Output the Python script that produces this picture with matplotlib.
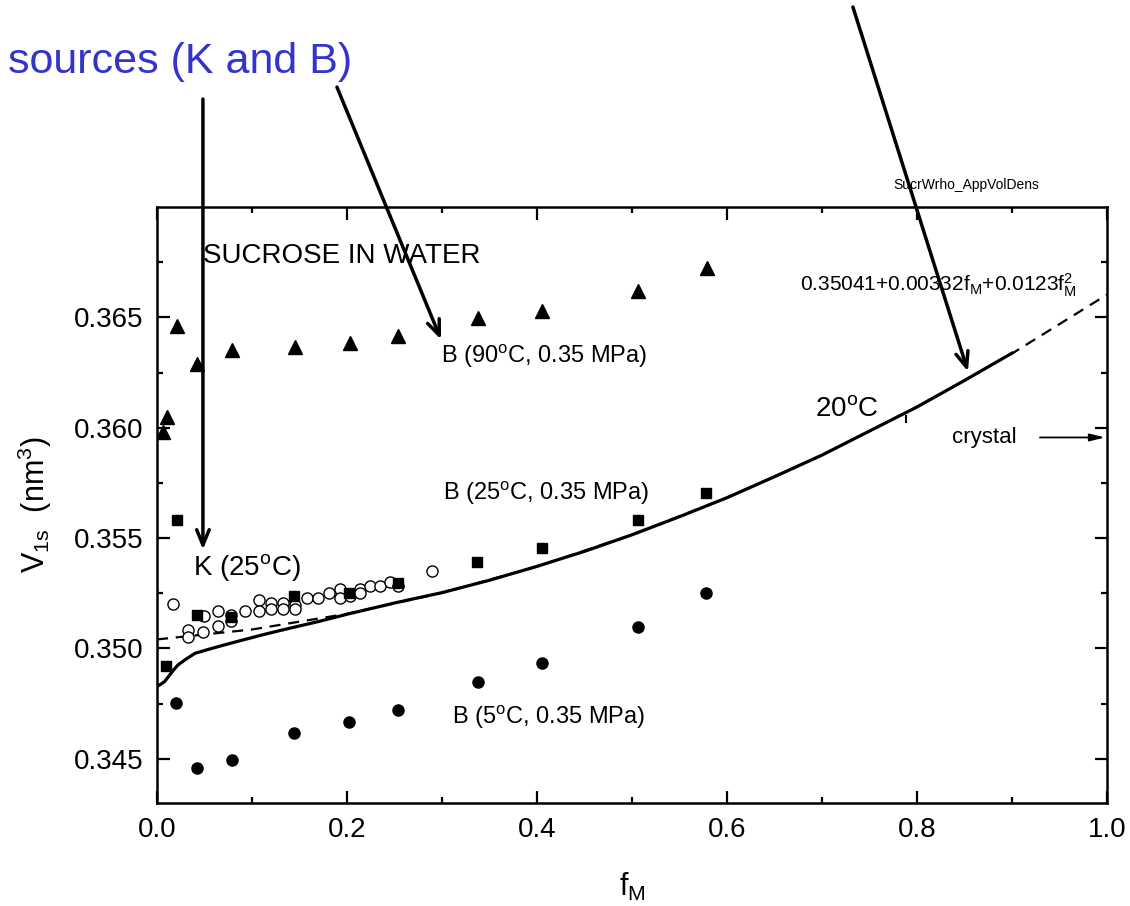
import matplotlib
matplotlib.use("Agg")
import matplotlib.pyplot as plt

plt.rcParams['font.family'] = ['Liberation Sans', 'DejaVu Sans']
plt.rcParams['mathtext.fontset'] = 'custom'
plt.rcParams['mathtext.rm'] = 'Liberation Sans'
plt.rcParams['mathtext.it'] = 'Liberation Sans'

# B, 90 C (triangles)
f_b90 = [0.006, 0.011, 0.021, 0.042, 0.079, 0.145, 0.203, 0.254, 0.338, 0.405, 0.506, 0.579]
v_b90 = [0.35979, 0.36047, 0.36459, 0.36287, 0.36350, 0.36364, 0.36382, 0.36414,
         0.36495, 0.36527, 0.36618, 0.36722]

# B, 25 C (squares)
f_b25 = [0.0095, 0.021, 0.042, 0.078, 0.144, 0.202, 0.254, 0.337, 0.405, 0.506, 0.578]
v_b25 = [0.34922, 0.35584, 0.35153, 0.35144, 0.35239, 0.35253, 0.35298, 0.35393,
         0.35457, 0.35584, 0.35706]

# B, 5 C (filled circles)
f_b5 = [0.020, 0.042, 0.079, 0.144, 0.202, 0.254, 0.338, 0.405, 0.506, 0.578]
v_b5 = [0.34754, 0.34459, 0.34495, 0.34618, 0.34668, 0.34722, 0.34849, 0.34935,
        0.35099, 0.35253]

# K, 25 C (open circles)
f_k25 = [0.0165, 0.033, 0.033, 0.048, 0.049, 0.064, 0.064, 0.078, 0.078, 0.093,
         0.107, 0.107, 0.120, 0.120, 0.133, 0.133, 0.145, 0.145, 0.158, 0.170,
         0.181, 0.193, 0.193, 0.203, 0.214, 0.214, 0.224, 0.235, 0.245, 0.254, 0.290]
v_k25 = [0.35202, 0.35082, 0.35050, 0.35073, 0.35149, 0.35171, 0.35100, 0.35153,
         0.35123, 0.35171, 0.35221, 0.35171, 0.35206, 0.35179, 0.35206, 0.35179,
         0.35198, 0.35179, 0.35229, 0.35229, 0.35251, 0.35270, 0.35229, 0.35239,
         0.35270, 0.35251, 0.35281, 0.35281, 0.35300, 0.35281, 0.35349]

# 20 C curve (solid)
f_20 = [0.0, 0.004, 0.008, 0.012, 0.017, 0.022, 0.03, 0.04, 0.055, 0.07, 0.09,
        0.115, 0.14, 0.17, 0.2, 0.25, 0.3, 0.35, 0.4, 0.45, 0.5, 0.55, 0.6,
        0.65, 0.7, 0.75, 0.8, 0.85, 0.9]
v_20 = [0.34827, 0.34838, 0.34850, 0.34872, 0.34900, 0.34925, 0.34950, 0.34978,
        0.34997, 0.35015, 0.35038, 0.35066, 0.35092, 0.35122, 0.35155, 0.35206,
        0.35253, 0.35309, 0.35372, 0.35440, 0.35515, 0.35597, 0.35683, 0.35778,
        0.35876, 0.35985, 0.36094, 0.36214, 0.36338]

# quadratic fit (dashed)
f_fit = [0.0, 0.1, 0.2, 0.3, 0.4, 0.5, 0.6, 0.7, 0.8, 0.9, 1.0]
v_fit = [0.35041, 0.35086, 0.35157, 0.35252, 0.35371, 0.35515, 0.35683, 0.35876,
         0.36094, 0.36336, 0.36603]

xticks = [0.0, 0.2, 0.4, 0.6, 0.8, 1.0]
xlabels = ['0.0', '0.2', '0.4', '0.6', '0.8', '1.0']
yticks = [0.345, 0.350, 0.355, 0.360, 0.365]
ylabels = ['0.345', '0.350', '0.355', '0.360', '0.365']

fig = plt.figure(figsize=(11.3, 9.06), dpi=100)
ax = fig.add_axes([0.1389, 0.1137, 0.8407, 0.6578])

ax.plot(f_fit, v_fit, color='black', lw=1.6, ls=(0, (5, 3.5)))
ax.plot(f_20, v_20, color='black', lw=2.3)
ax.plot([0.788, 0.788], [0.36025, 0.36055], color='black', lw=1.5)

ax.plot(f_b90, v_b90, '^', color='black', ms=9.5, ls='none')
ax.plot(f_k25, v_k25, 'o', mfc='white', mec='black', mew=1.0, ms=8, ls='none')
ax.plot(f_b25, v_b25, 's', color='black', ms=7, ls='none')
ax.plot(f_b5, v_b5, 'o', color='black', ms=8, ls='none')

ax.set_xlim(0, 1.0)
ax.set_ylim(0.343, 0.370)
ax.set_xticks(xticks)
ax.set_xticklabels(xlabels)
ax.set_yticks(yticks)
ax.set_yticklabels(ylabels)
ax.set_xticks([0.1, 0.3, 0.5, 0.7, 0.9], minor=True)
ax.set_yticks([0.3475, 0.3525, 0.3575, 0.3625, 0.3675], minor=True)
ax.tick_params(which='both', direction='in', top=True, right=True, width=1.6,
               labelsize=20, pad=10)
ax.tick_params(which='major', length=9)
ax.tick_params(which='minor', length=4.5)
for s in ax.spines.values():
    s.set_linewidth(1.8)

ax.set_xlabel('f$_\\mathrm{M}$', fontsize=22, labelpad=20)
ax.set_ylabel('V$_\\mathrm{1s}$  (nm$^\\mathrm{3}$)', fontsize=22, labelpad=14)

# labels inside the plot
ax.text(0.0484, 0.36777, 'SUCROSE IN WATER', fontsize=20, va='center')
ax.text(0.299, 0.36323, 'B (90$^\\mathrm{o}$C, 0.35 MPa)', fontsize=17, va='center')
ax.text(0.301, 0.35702, 'B (25$^\\mathrm{o}$C, 0.35 MPa)', fontsize=17, va='center')
ax.text(0.3105, 0.34686, 'B (5$^\\mathrm{o}$C, 0.35 MPa)', fontsize=17, va='center')
ax.text(0.038, 0.35366, 'K (25$^\\mathrm{o}$C)', fontsize=20, va='center')
ax.text(0.6926, 0.36083, '20$^\\mathrm{o}$C', fontsize=20, va='center')
ax.text(0.8368, 0.35956, 'crystal', fontsize=16, va='center')
ax.text(0.677, 0.36645, '0.35041+0.00332f$_\\mathrm{M}$+0.0123f$_\\mathrm{M}^\\mathrm{2}$',
        fontsize=15, va='center')
ax.text(0.7747, 0.37099, 'SucrWrho_AppVolDens', fontsize=10, va='center', clip_on=False)

ax.annotate('', xy=(0.998, 0.35956), xytext=(0.9295, 0.35956),
            arrowprops=dict(arrowstyle='-|>,head_length=0.9,head_width=0.22',
                            color='black', lw=1.3, shrinkA=0, shrinkB=0))

# arrows from the caption down into the plot
open_arrow = dict(arrowstyle='->,head_length=1.1,head_width=0.45', color='black',
                  lw=2.5, shrinkA=0, shrinkB=0)
ax.annotate('', xy=(0.0484, 0.35448), xytext=(0.0484, 0.37489),
            arrowprops=open_arrow, annotation_clip=False)
ax.annotate('', xy=(0.299, 0.36400), xytext=(0.1895, 0.37543),
            arrowprops=open_arrow, annotation_clip=False)
ax.annotate('', xy=(0.8537, 0.36255), xytext=(0.7326, 0.37906),
            arrowprops=open_arrow, annotation_clip=False)

fig.text(0.0071, 0.9316, 'sources (K and B)', fontsize=31, color='#3434CC', va='center')

fig.savefig('out.png', dpi=100)
